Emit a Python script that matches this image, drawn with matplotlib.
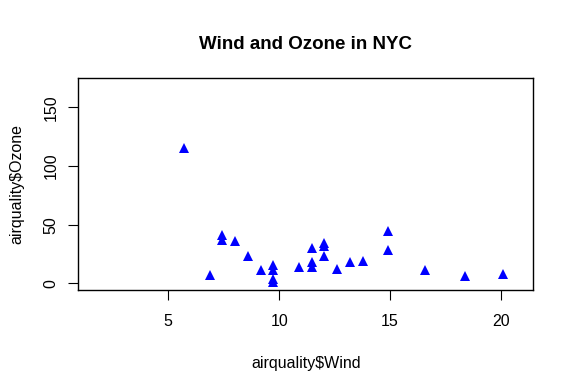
import matplotlib
matplotlib.use("Agg")
import matplotlib.pyplot as plt

# airquality, Month == 5 (rows with Ozone present)
wind = [7.4, 8.0, 12.6, 11.5, 14.9, 8.6, 13.8, 20.1, 6.9, 9.7, 9.2, 10.9,
        13.2, 11.5, 12.0, 18.4, 11.5, 9.7, 9.7, 16.6, 9.7, 12.0, 12.0, 14.9,
        5.7, 7.4]
ozone = [41, 36, 12, 18, 28, 23, 19, 8, 7, 16, 11, 14,
         18, 14, 34, 6, 30, 11, 1, 11, 4, 32, 23, 45,
         115, 37]
xticks = [5, 10, 15, 20]
yticks = [0, 50, 100, 150]
xrange_full = (1.7, 20.7)
yrange_full = (1, 168)

plt.rcParams['font.family'] = ['Liberation Sans', 'DejaVu Sans']

fig = plt.figure(figsize=(5.74, 3.88), dpi=100)
ax = fig.add_axes([0.1364, 0.2526, 0.929 - 0.1364, 0.798 - 0.2526])

ax.plot(wind, ozone, linestyle="none", marker="^", markersize=7,
        color="#0000ff", markeredgewidth=0)

pad_x = 0.04 * (xrange_full[1] - xrange_full[0])
pad_y = 0.04 * (yrange_full[1] - yrange_full[0])
ax.set_xlim(xrange_full[0] - pad_x, xrange_full[1] + pad_x)
ax.set_ylim(yrange_full[0] - pad_y, yrange_full[1] + pad_y)

ax.set_xticks(xticks)
ax.set_yticks(yticks)
ax.set_yticklabels([str(t) for t in yticks], rotation=90, va="center")
ax.tick_params(direction="out", length=7, width=0.8, labelsize=11.5,
               color="black")
ax.tick_params(axis="x", pad=10)
ax.tick_params(axis="y", pad=7)
for s in ax.spines.values():
    s.set_linewidth(1.0)

ax.set_xlabel("airquality$Wind", fontsize=11.5, labelpad=20)
ax.set_ylabel("airquality$Ozone", fontsize=11.5, labelpad=14)
ax.set_title("Wind and Ozone in NYC", fontsize=13.5, fontweight="bold", pad=21)

fig.savefig("out.png", dpi=100)
